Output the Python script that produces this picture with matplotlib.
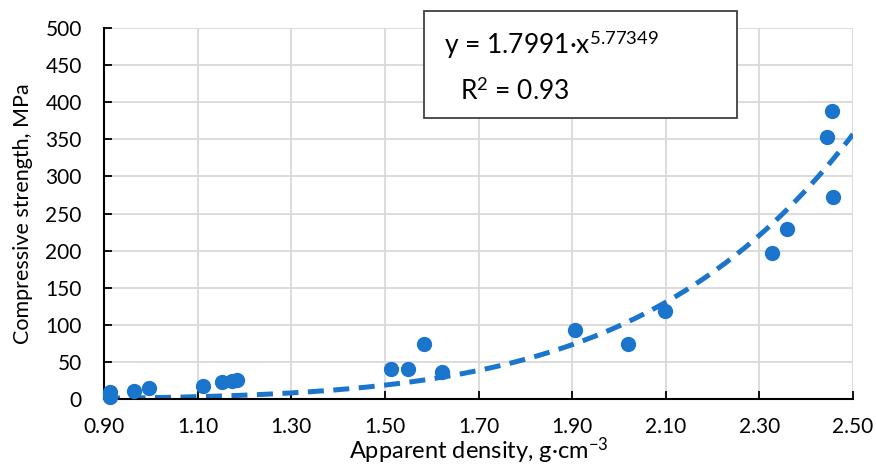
import numpy as np
import matplotlib.pyplot as plt

plt.rcParams['font.family'] = ['Lato', 'DejaVu Sans']
plt.rcParams['mathtext.fontset'] = 'custom'
plt.rcParams['mathtext.rm'] = 'Lato'
plt.rcParams['mathtext.it'] = 'Lato:italic'

# apparent density (g/cm3) and compressive strength (MPa)
density = [0.912, 0.913, 0.964, 0.996, 1.111, 1.152, 1.173, 1.184, 1.513, 1.549,
           1.584, 1.622, 1.906, 2.019, 2.098, 2.327, 2.359, 2.445, 2.455, 2.457]
strength = [9, 3, 10.8, 14.8, 17.5, 23, 24, 25.6, 40, 40,
            74, 36, 93, 74, 118, 197, 229, 353, 388, 272]

# power trendline y = a * x^b
a, b = 1.7991, 5.77349

xticks = [0.90, 1.10, 1.30, 1.50, 1.70, 1.90, 2.10, 2.30, 2.50]
yticks = [0, 50, 100, 150, 200, 250, 300, 350, 400, 450, 500]

blue = '#1b75cc'

fig = plt.figure(figsize=(8.76, 4.68), dpi=100)
ax = fig.add_axes([104/876, 1 - 399/468, 749/876, 371/468])

xs = np.linspace(0.9, 2.5, 300)
ax.plot(xs, a * xs ** b, color=blue, lw=3.6, ls=(0, (3.2, 1.9)), zorder=2)
ax.plot(density, strength, 'o', color=blue, ms=10, zorder=3, clip_on=False)

ax.set_xlim(0.9, 2.5)
ax.set_ylim(0, 500)
ax.set_xticks(xticks)
ax.set_xticklabels([f'{t:.2f}' for t in xticks])
ax.set_yticks(yticks)
ax.tick_params(direction='in', length=6, width=1.3, labelsize=15, colors='black')
ax.tick_params(axis='x', pad=13)
ax.tick_params(axis='y', pad=16)
ax.grid(color='#d9d9d9', lw=1.3)
ax.set_axisbelow(True)
for s in ['top', 'right']:
    ax.spines[s].set_visible(False)
for s in ['left', 'bottom']:
    ax.spines[s].set_linewidth(1.5)

ax.set_xlabel('Apparent density, g·cm$^{\u22123}$', fontsize=17, labelpad=-1)
ax.set_ylabel('Compressive strength, MPa', fontsize=15.5, labelpad=9)

fig.text(444/876, 1 - 45/468, 'y = 1.7991·x$^{5.77349}$', fontsize=19, va='center')
fig.text(460/876, 1 - 91/468, 'R$^{2}$ = 0.93', fontsize=19, va='center')
box = plt.Rectangle((424/876, 1 - 118/468), 313/876, 107/468, transform=fig.transFigure,
                    fc='white', ec='#404040', lw=1.3, zorder=1)
fig.patches.append(box)

fig.savefig('out.png', dpi=100)
